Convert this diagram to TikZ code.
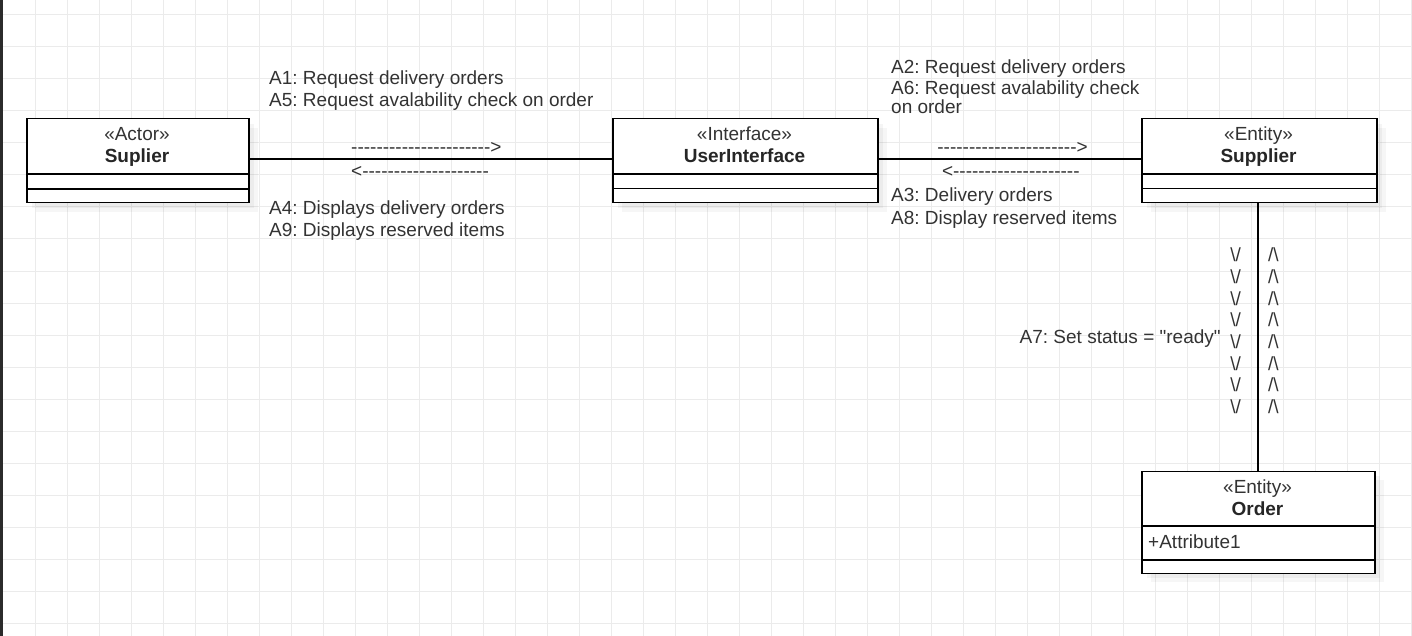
\documentclass[tikz,border=0pt]{standalone}
\usepackage{fontspec}
\newfontfamily\arial{Liberation Sans}
\usetikzlibrary{shadows}
\definecolor{txt}{HTML}{333333}
\definecolor{gridc}{HTML}{EBEBEB}
\definecolor{edgestrip}{HTML}{2B2B2B}
\frenchspacing
\begin{document}
\begin{tikzpicture}[x=1pt,y=-1pt,
  lbl/.style={font=\arial\fontsize{19}{22}\selectfont, text=txt, inner sep=0pt, anchor=base west},
  colv/.style={font=\arial\fontsize{19}{22}\selectfont, text=txt, inner sep=0pt, anchor=base},
  stereo/.style={font=\arial\fontsize{19}{22}\selectfont, text=txt, inner sep=0pt, anchor=base},
  cname/.style={font=\arial\bfseries\fontsize{19}{22}\selectfont, text=black!85, inner sep=0pt, anchor=base},
  umlbox/.style={draw=black, line width=1.5pt, fill=white, rectangle, inner sep=0pt, anchor=north west,
    general shadow={fill=black, opacity=0.035, shadow xshift=9pt, shadow yshift=-9pt},
    general shadow={fill=black, opacity=0.04, shadow xshift=5pt, shadow yshift=-5pt}},
  sep/.style={draw=black, line width=1.5pt},
  conn/.style={draw=black, line width=1.7pt}
]
\useasboundingbox (0,0) rectangle (1412,636);
\fill[white] (0,0) rectangle (1412,636);
% grid
\foreach \gx in {35,67,...,1411} \draw[gridc, line width=1pt] (\gx,0) -- (\gx,636);
\foreach \gy in {15,47,...,635} \draw[gridc, line width=1pt] (0,\gy) -- (1412,\gy);
\fill[edgestrip] (0,0) rectangle (3.3,636);

% boxes
\node[umlbox, minimum width=222pt, minimum height=84pt] (act) at (26,118) {};
\node[umlbox, minimum width=265pt, minimum height=84pt] (ui) at (612,118) {};
\node[umlbox, minimum width=235pt, minimum height=84pt] (sup) at (1141,118) {};
\node[umlbox, minimum width=233pt, minimum height=102pt] (ord) at (1141,470.5) {};

\draw[sep] (act.west |- 0,174) -- (act.east |- 0,174);
\draw[sep] (act.west |- 0,189) -- (act.east |- 0,189);
\draw[sep] (ui.west |- 0,174) -- (ui.east |- 0,174);
\draw[sep] (ui.west |- 0,188.5) -- (ui.east |- 0,188.5);
\draw[sep] (sup.west |- 0,174) -- (sup.east |- 0,174);
\draw[sep] (sup.west |- 0,188.5) -- (sup.east |- 0,188.5);
\draw[sep] (ord.west |- 0,526) -- (ord.east |- 0,526);
\draw[sep] (ord.west |- 0,560) -- (ord.east |- 0,560);

\node[stereo] (actS) at (137,141) {«Actor»};
\node[cname] (actN) at (137,163) {Suplier};
\node[stereo] (uiS) at (744.5,141) {«Interface»};
\node[cname] (uiN) at (744.5,163) {UserInterface};
\node[stereo] (supS) at (1258.5,141) {«Entity»};
\node[cname] (supN) at (1258.5,163) {Supplier};
\node[stereo] (ordS) at (1257.5,493.5) {«Entity»};
\node[cname] (ordN) at (1257.5,515) {Order};
\node[lbl] (ordA) at (1148,548.5) {+Attribute1};

% connectors
\draw[conn] (act.east |- 0,159) -- (ui.west |- 0,159);
\draw[conn] (ui.east |- 0,159) -- (sup.west |- 0,159);
\draw[conn] ([xshift=-1.5pt]sup.south) -- ([xshift=-1.5pt]sup.south |- ord.north);

% labels left
\node[lbl] (a1) at (269,85) {A1: Request delivery orders};
\node[lbl] (a5) at (269,107) {A5: Request avalability check on order};
\node[lbl] (d1) at (351,153.5) {---------------------->};
\node[lbl] (d2) at (351,178) {<--------------------};
\node[lbl] (a4) at (269,214.5) {A4: Displays delivery orders};
\node[lbl] (a9) at (269,236.5) {A9: Displays reserved items};

% labels right
\node[lbl] (a2) at (891,73.5) {A2: Request delivery orders};
\node[lbl] (a6) at (891,95) {A6: Request avalability check};
\node[lbl] (a6b) at (891,113.5) {on order};
\node[lbl] (d3) at (937.2,153.5) {---------------------->};
\node[lbl] (d4) at (941.8,178) {<--------------------};
\node[lbl] (a3) at (891,201.8) {A3: Delivery orders};
\node[lbl] (a8) at (891,224.5) {A8: Display reserved items};

% vertical labels
\node[lbl] (a7) at (1019.5,343.5) {A7: Set status = "ready"};
\foreach \i in {0,...,7} {
  \node[colv] (dn\i) at (1235.7,261.8+21.67*\i) {\textbackslash/};
  \node[colv] (up\i) at (1273.3,261.8+21.67*\i) {/\textbackslash};
}
\end{tikzpicture}
\end{document}
